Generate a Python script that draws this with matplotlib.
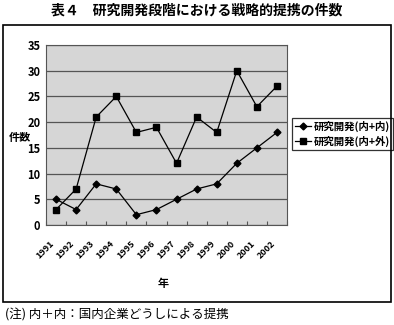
import matplotlib
matplotlib.use("Agg")
import matplotlib.pyplot as plt
from matplotlib.patches import Rectangle

plt.rcParams['font.family'] = ['Noto Sans CJK JP', 'DejaVu Sans']

years = ['1991', '1992', '1993', '1994', '1995', '1996', '1997', '1998', '1999', '2000', '2001', '2002']
naibu = [5, 3, 8, 7, 2, 3, 5, 7, 8, 12, 15, 18]
gaibu = [3, 7, 21, 25, 18, 19, 12, 21, 18, 30, 23, 27]
label_a = '研究開発(内+内)'
label_b = '研究開発(内+外)'

W, H = 394, 325
fig = plt.figure(figsize=(W / 100, H / 100), dpi=100)

def fx(px):
    return px / W

def fy(py):
    return 1 - py / H

# outer frame
fig.patches.append(Rectangle((fx(3), fy(302)), fx(391) - fx(3), fy(25) - fy(302),
                             transform=fig.transFigure, fill=False, edgecolor='black', lw=1.2))

fig.text(fx(197), fy(11), '表４　研究開発段階における戦略的提携の件数', ha='center', va='center',
         fontsize=10, fontweight='bold')
fig.text(fx(5), fy(315), '(注) 内＋内：国内企業どうしによる提携', ha='left', va='center', fontsize=9)

ax = fig.add_axes([fx(46), fy(225), fx(287) - fx(46), fy(45) - fy(225)])
ax.set_facecolor('#d6d6d6')
x = list(range(len(years)))
ax.plot(x, naibu, color='black', lw=0.9, marker='D', markersize=3.5, label=label_a)
ax.plot(x, gaibu, color='black', lw=0.9, marker='s', markersize=3.8, label=label_b)
ax.set_xlim(-0.5, len(years) - 0.5)
ax.set_ylim(0, 35)
ax.set_yticks(range(0, 36, 5))
ax.yaxis.grid(True, color='#555555', lw=0.9)
ax.set_axisbelow(True)
ax.set_xticks([i + 0.5 for i in range(-1, len(years))], minor=False)
ax.set_xticklabels([])
ax.set_xticks(x, minor=True)
ax.set_xticklabels(years, minor=True, rotation=45, ha='right', va='top', fontsize=6.5, fontweight='bold')
ax.tick_params(axis='x', which='major', direction='in', length=3, color='#555555')
ax.tick_params(axis='x', which='minor', length=0, pad=10)
ax.tick_params(axis='y', length=0, labelsize=8, pad=4)
for lab in ax.get_yticklabels():
    lab.set_fontweight('bold')
for s in ax.spines.values():
    s.set_color('#555555')
    s.set_linewidth(0.8)

fig.text(fx(20), fy(138), '件数', ha='center', va='center', fontsize=8, fontweight='bold')
fig.text(fx(163), fy(283), '年', ha='center', va='center', fontsize=8, fontweight='bold')

leg = ax.legend(loc='center left', fontsize=7.5,
                frameon=True, fancybox=False, edgecolor='black', handlelength=1.5,
                handletextpad=0.3, borderpad=0.3, labelspacing=0.35, borderaxespad=0)
leg.set_bbox_to_anchor((fx(292), fy(134)), transform=fig.transFigure)
leg.get_frame().set_linewidth(0.9)
for t in leg.get_texts():
    t.set_fontweight('bold')

fig.savefig('out.png', dpi=100)
